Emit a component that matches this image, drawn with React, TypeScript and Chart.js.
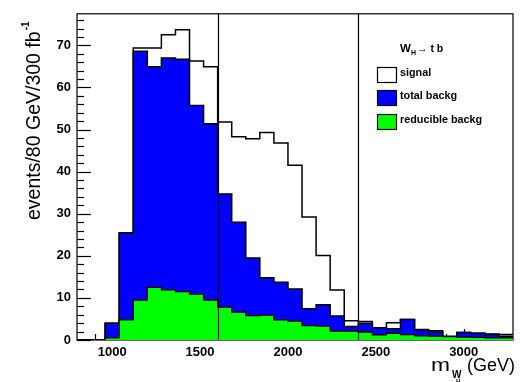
import React, { useEffect, useRef } from "react";
import { Chart, registerables } from "chart.js";

Chart.register(...registerables);

// Bin edges (80 GeV bins)
const binEdges = [
  800, 880, 960, 1040, 1120, 1200, 1280, 1360, 1440, 1520, 1600, 1680, 1760, 1840, 1920, 2000,
  2080, 2160, 2240, 2320, 2400, 2480, 2560, 2640, 2720, 2800, 2880, 2960, 3040, 3120, 3200, 3280,
];
// signal (drawn as signal + background outline)
const signalValues = [
  0, 0, 4.0, 25.4, 69.4, 69.4, 72.5, 73.7, 66.3, 64.9, 51.8, 48.3, 47.8, 49.3, 46.8, 41.5,
  29.2, 20.1, 11.9, 4.6, 4.4, 2.9, 4.1, 4.9, 2.5, 2.2, 0.9, 1.8, 1.6, 1.4, 1.3,
];
const totalBackgValues = [
  0, 0, 4.0, 25.4, 68.6, 64.9, 67.0, 66.7, 55.7, 51.4, 34.7, 28.0, 19.5, 14.8, 13.7, 12.1,
  7.4, 8.4, 5.7, 3.2, 4.0, 2.9, 2.7, 4.9, 2.4, 1.9, 0.8, 1.8, 1.6, 1.3, 0.9,
];
const reducibleBackgValues = [
  0, 0, 0.5, 4.8, 9.5, 12.5, 11.9, 11.5, 10.9, 9.5, 7.8, 6.6, 5.8, 5.9, 4.8, 4.5,
  3.4, 3.3, 2.1, 2.1, 1.9, 1.2, 1.6, 1.3, 1.0, 0.9, 0.8, 0.7, 0.6, 0.5, 0.5,
];

const xTickValues = [1000, 1500, 2000, 2500, 3000];
const yTickValues = [0, 10, 20, 30, 40, 50, 60, 70];
const cutValues = [1600, 2400];
const xRange = [800, 3280];
const yRange = [0, 77.5];

const legendLabels = ["signal", "total backg", "reducible backg"];
const legendColors = ["#ffffff", "#0000ff", "#00ff00"];

const FONT = "'Liberation Sans', Arial, Helvetica, sans-serif";

function toSteps(values: number[]) {
  const pts = values.map((v, i) => ({ x: binEdges[i], y: v }));
  pts.push({ x: binEdges[values.length], y: values[values.length - 1] });
  return pts;
}

const decorPlugin = {
  id: "decor",
  beforeDatasetsDraw(chart: any) {
    const { ctx, chartArea: a, scales } = chart;
    const x = scales.x;
    const y = scales.y;
    ctx.save();
    ctx.strokeStyle = "#000";
    ctx.lineWidth = 1.2;
    ctx.strokeRect(a.left, a.top, a.right - a.left, a.bottom - a.top);
    // y ticks
    for (let v = 0; v <= 76; v += 2) {
      const py = Math.round(y.getPixelForValue(v)) + 0.5;
      const len = v % 10 === 0 ? 14 : 7;
      ctx.beginPath();
      ctx.moveTo(a.left, py);
      ctx.lineTo(a.left + len, py);
      ctx.stroke();
    }
    // x ticks
    for (let v = 900; v <= 3200; v += 100) {
      const px = Math.round(x.getPixelForValue(v)) + 0.5;
      const len = v % 500 === 0 ? 11 : 6;
      ctx.beginPath();
      ctx.moveTo(px, a.bottom);
      ctx.lineTo(px, a.bottom - len);
      ctx.stroke();
    }
    ctx.restore();
  },
  afterDatasetsDraw(chart: any) {
    const { ctx, chartArea: a, scales } = chart;
    ctx.save();
    ctx.strokeStyle = "#000";
    ctx.lineWidth = 1.2;
    cutValues.forEach((c) => {
      const px = Math.round(scales.x.getPixelForValue(c)) + 0.5;
      ctx.beginPath();
      ctx.moveTo(px, a.top);
      ctx.lineTo(px, a.bottom);
      ctx.stroke();
    });
    ctx.restore();
  },
  afterDraw(chart: any) {
    const { ctx } = chart;
    ctx.save();
    ctx.fillStyle = "#000";
    ctx.textBaseline = "alphabetic";
    ctx.textAlign = "left";

    // Y axis title (rotated)
    ctx.save();
    ctx.translate(40, 220);
    ctx.rotate(-Math.PI / 2);
    ctx.font = `19.5px ${FONT}`;
    const yt = "events/80 GeV/300 fb";
    ctx.fillText(yt, 0, 0);
    const w = ctx.measureText(yt).width;
    ctx.font = `bold 10px ${FONT}`;
    ctx.fillText("-1", w + 1, -11);
    ctx.restore();

    // X axis title: m_{W_H} (GeV)
    ctx.save();
    ctx.translate(431, 371);
    ctx.scale(1.2, 1);
    ctx.font = `19px ${FONT}`;
    ctx.fillText("m", 0, 0);
    ctx.restore();
    ctx.font = `bold 10px ${FONT}`;
    ctx.fillText("W", 452, 378);
    ctx.font = `bold 6px ${FONT}`;
    ctx.fillText("H", 456, 383);
    ctx.font = `18px ${FONT}`;
    ctx.fillText("(GeV)", 467, 371);

    // Legend
    ctx.font = `bold 11.5px ${FONT}`;
    ctx.fillText("W", 400, 52);
    ctx.font = `bold 7px ${FONT}`;
    ctx.fillText("H", 411, 55);
    ctx.font = `bold 10.5px ${FONT}`;
    ctx.fillText("\u2192 t b", 417, 52);

    const boxTops = [67, 90, 114];
    ctx.lineWidth = 1.2;
    legendLabels.forEach((lab, i) => {
      ctx.fillStyle = legendColors[i];
      ctx.fillRect(377, boxTops[i], 20, 16);
      ctx.strokeStyle = "#000";
      ctx.strokeRect(377.5, boxTops[i] + 0.5, 19, 15);
      ctx.fillStyle = "#000";
      ctx.font = `bold 10.8px ${FONT}`;
      ctx.fillText(lab, 400, boxTops[i] + 9);
    });
    ctx.restore();
  },
};

export default function App() {
  const ref = useRef<HTMLCanvasElement | null>(null);
  useEffect(() => {
    document.body.style.margin = "0";
    const canvas = ref.current;
    if (!canvas) return;
    const tickFont = { family: FONT, size: 13, weight: "bold" as const };
    const chart = new Chart(canvas, {
      type: "line",
      data: {
        datasets: [
          {
            label: legendLabels[2],
            data: toSteps(reducibleBackgValues),
            stepped: "before",
            fill: "origin",
            backgroundColor: legendColors[2],
            borderColor: "#000",
            borderWidth: 1.3,
            pointRadius: 0,
          },
          {
            label: legendLabels[1],
            data: toSteps(totalBackgValues),
            stepped: "before",
            fill: "origin",
            backgroundColor: legendColors[1],
            borderColor: "#000",
            borderWidth: 1.5,
            pointRadius: 0,
          },
          {
            label: legendLabels[0],
            data: toSteps(signalValues),
            stepped: "before",
            fill: "origin",
            backgroundColor: legendColors[0],
            borderColor: "#000",
            borderWidth: 1.5,
            pointRadius: 0,
          },
        ] as any,
      },
      options: {
        responsive: false,
        animation: false,
        layout: { padding: { top: 9, right: 7, left: 0, bottom: 0 } },
        plugins: { legend: { display: false }, tooltip: { enabled: false } },
        scales: {
          x: {
            type: "linear",
            min: xRange[0],
            max: xRange[1],
            grid: { display: false, drawTicks: false },
            border: { display: false },
            afterBuildTicks: (s: any) => {
              s.ticks = xTickValues.map((v) => ({ value: v }));
            },
            afterFit: (s: any) => {
              s.height = 42;
            },
            ticks: {
              font: tickFont,
              color: "#000",
              padding: 5,
              maxRotation: 0,
              autoSkip: false,
              callback: (v: any) => String(v),
            },
          },
          y: {
            type: "linear",
            min: yRange[0],
            max: yRange[1],
            grid: { display: false, drawTicks: false },
            border: { display: false },
            afterBuildTicks: (s: any) => {
              s.ticks = yTickValues.map((v) => ({ value: v }));
            },
            afterFit: (s: any) => {
              s.width = 77;
            },
            ticks: {
              font: tickFont,
              color: "#000",
              padding: 6,
              autoSkip: false,
              callback: (v: any) => String(v),
            },
          },
        },
      } as any,
      plugins: [decorPlugin],
    });
    return () => chart.destroy();
  }, []);
  return (
    <div style={{ position: "fixed", left: 0, top: 0, width: 520, height: 382, background: "#fff" }}>
      <canvas ref={ref} width={520} height={382} style={{ display: "block" }} />
    </div>
  );
}
